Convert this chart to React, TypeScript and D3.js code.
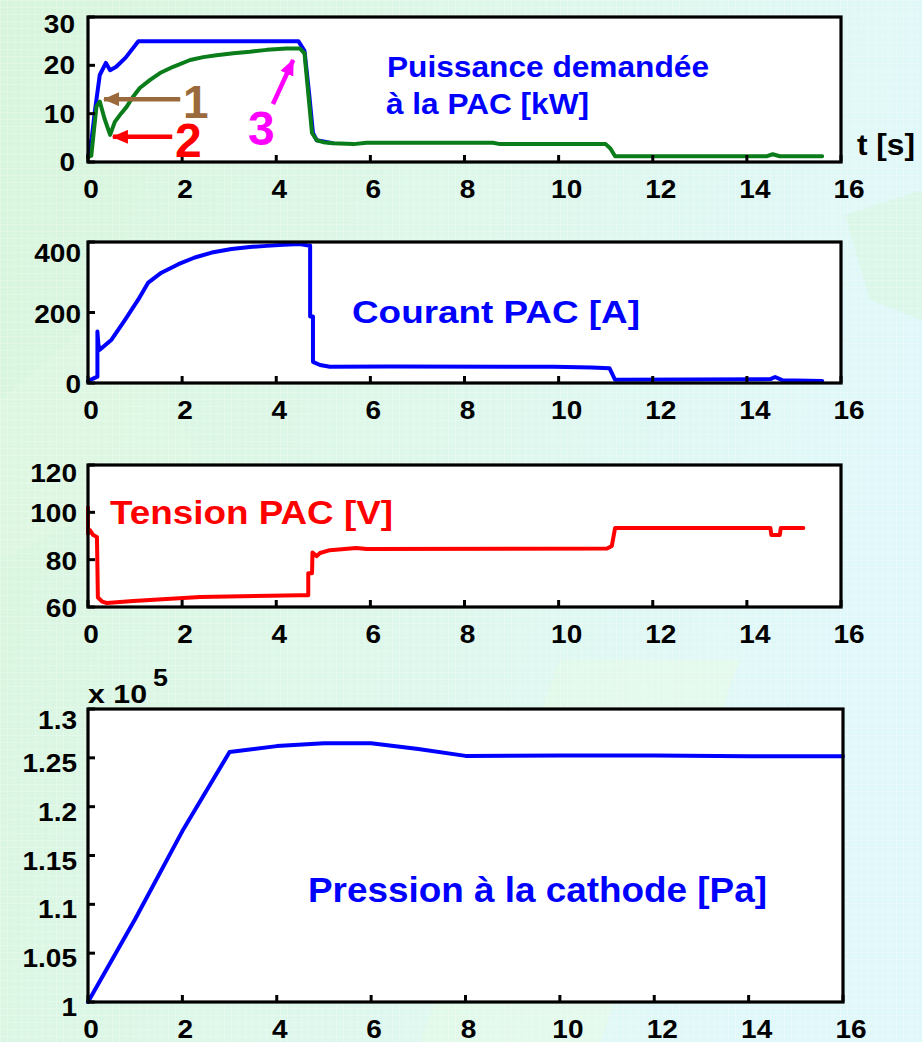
import React from "react";
import * as d3 from "d3";

// ---------- data ----------
const tTicks = [0, 2, 4, 6, 8, 10, 12, 14, 16];
const powerTicks = [0, 10, 20, 30];
const currentTicks = [0, 200, 400];
const voltageTicks = [60, 80, 100, 120];
const pressureTicks = [1, 1.05, 1.1, 1.15, 1.2, 1.25, 1.3];
const pressureTickLabels = ["1", "1.05", "1.1", "1.15", "1.2", "1.25", "1.3"];

// Puissance demandée (blue) [t (s), kW]
const powerDemand: [number, number][] = [
  [0, 1], [0.08, 5], [0.15, 10.8], [0.25, 18], [0.38, 20.5], [0.47, 19], [0.6, 19.7],
  [0.8, 21.6], [1.07, 25], [4.47, 25], [4.6, 23], [4.7, 14], [4.78, 6], [4.86, 4.5], [5.2, 3.9],
];
// Puissance PAC (green) [t (s), kW]
const powerFuelCell: [number, number][] = [
  [0, 1], [0.07, 1.3], [0.12, 6], [0.18, 11.5], [0.25, 12.5], [0.35, 9], [0.47, 5.6],
  [0.57, 8.3], [0.7, 10], [0.82, 11.4], [0.95, 13.4], [1.1, 15.3], [1.32, 17], [1.53, 18.4],
  [1.81, 19.7], [2.17, 21.1], [2.45, 21.7], [2.73, 22.1], [3.09, 22.5], [3.44, 22.8],
  [3.8, 23.2], [4.22, 23.5], [4.5, 23.5], [4.6, 22.5], [4.76, 6], [4.86, 4.5], [5.0, 4.1],
  [5.2, 3.9], [5.64, 3.7], [5.92, 4.0], [8.6, 4.0], [8.76, 3.7], [11.0, 3.7], [11.1, 2.8],
  [11.2, 1.2], [14.43, 1.2], [14.55, 1.6], [14.7, 1.2], [15.6, 1.2],
];
// Courant PAC [t (s), A]
const currentFC: [number, number][] = [
  [0, 4], [0.04, 8], [0.2, 18], [0.2, 146], [0.22, 110], [0.25, 94], [0.5, 123],
  [0.79, 180], [1.07, 237], [1.28, 285], [1.56, 313], [1.92, 337], [2.27, 356],
  [2.63, 370], [3.05, 380], [3.44, 386], [3.8, 389], [4.15, 392], [4.5, 394],
  [4.65, 391], [4.72, 390], [4.72, 189], [4.78, 189], [4.78, 60], [4.93, 51], [5.14, 46],
  [6.42, 47], [9.9, 46], [10.7, 44], [11.08, 42], [11.2, 9], [14.5, 11], [14.6, 17],
  [14.75, 8], [15.6, 6],
];
// Tension PAC [t (s), V]
const voltageFC: [number, number][] = [
  [0, 102], [0, 91], [0.04, 92.5], [0.11, 90.4], [0.19, 89.6], [0.21, 64], [0.3, 62.3],
  [0.4, 61.7], [0.96, 62.5], [2.38, 64.2], [4.5, 65], [4.68, 65], [4.68, 74.3], [4.76, 74.3],
  [4.77, 83], [4.86, 81.5], [4.93, 82.8], [5.14, 84], [5.7, 84.9], [5.92, 84.5], [11.03, 84.7],
  [11.13, 85.8], [11.2, 93.4], [14.5, 93.4], [14.52, 90.4], [14.7, 90.4], [14.72, 93.4],
  [15.2, 93.4],
];
// Pression à la cathode [t (s), x1e5 Pa]
const pressureCathode: [number, number][] = [
  [0, 1], [1, 1.085], [2, 1.175], [3, 1.256], [4, 1.262], [5, 1.265], [6, 1.265],
  [7, 1.259], [8, 1.252], [10, 1.2525], [12, 1.2525], [14, 1.2515], [16, 1.2515],
];

// annotations in data units of panel 1
const arrows: { tail: [number, number]; head: [number, number]; color: string; id: string }[] = [
  { tail: [1.96, 13], head: [0.34, 13], color: "#9b6a3c", id: "brown" },
  { tail: [1.79, 5.2], head: [0.53, 5.2], color: "#ff0000", id: "red" },
  { tail: [3.93, 12], head: [4.36, 21.1], color: "#ff00ff", id: "mag" },
];
const arrowLabels: { t: number; p: number; text: string; color: string; size: number }[] = [
  { t: 2.02, p: 9.1, text: "1", color: "#9b6a3c", size: 46 },
  { t: 1.85, p: 1.0, text: "2", color: "#ff0000", size: 48 },
  { t: 3.4, p: 3.5, text: "3", color: "#ff00ff", size: 48 },
];

const FONT = "'Liberation Sans', Arial, Helvetica, sans-serif";
const W = 922;
const H = 1042;

function SText(props: {
  x: number; y: number; sx?: number; anchor?: string; size: number; fill?: string;
  children: React.ReactNode;
}) {
  const { x, y, sx = 1, anchor = "start", size, fill = "#000", children } = props;
  return (
    <text
      transform={`translate(${x},${y}) scale(${sx},1)`}
      textAnchor={anchor as any}
      fontSize={size}
      fontWeight="bold"
      fill={fill}
      fontFamily={FONT}
    >
      {children}
    </text>
  );
}

function FitText(props: {
  x: number; y: number; w: number; size: number; fill: string; children: React.ReactNode;
}) {
  return (
    <text
      x={props.x}
      y={props.y}
      fontSize={props.size}
      fontWeight="bold"
      fill={props.fill}
      fontFamily={FONT}
      textLength={props.w}
      lengthAdjust="spacingAndGlyphs"
    >
      {props.children}
    </text>
  );
}

type PanelCfg = {
  top: number; bottom: number; left: number; right: number;
  domain: [number, number]; ticks: number[]; labels: string[];
  labelRight: number; dy: number; topDy: number;
  series: { data: [number, number][]; color: string }[];
};

function Panel({ cfg, children }: { cfg: PanelCfg; children?: (x: any, y: any) => React.ReactNode }) {
  const x = d3.scaleLinear().domain([0, 16]).range([cfg.left, cfg.right]);
  const y = d3.scaleLinear().domain(cfg.domain).range([cfg.bottom, cfg.top]);
  const line = d3.line<[number, number]>().x((d) => x(d[0])).y((d) => y(d[1]));
  const TS = 25;
  const SX = 1.12;
  return (
    <g>
      <rect
        x={cfg.left}
        y={cfg.top}
        width={cfg.right - cfg.left}
        height={cfg.bottom - cfg.top}
        fill="#ffffff"
      />
      {cfg.series.map((s, i) => (
        <path
          key={i}
          d={line(s.data) || ""}
          fill="none"
          stroke={s.color}
          strokeWidth={4}
          strokeLinejoin="round"
          strokeLinecap="round"
        />
      ))}
      {tTicks.map((t) => (
        <line key={"xt" + t} x1={x(t)} x2={x(t)} y1={cfg.bottom} y2={cfg.bottom - 7} stroke="#000" strokeWidth={3} />
      ))}
      {cfg.ticks.map((v) => (
        <line key={"yt" + v} x1={cfg.left} x2={cfg.left + 7} y1={y(v)} y2={y(v)} stroke="#000" strokeWidth={3} />
      ))}
      <rect
        x={cfg.left}
        y={cfg.top}
        width={cfg.right - cfg.left}
        height={cfg.bottom - cfg.top}
        fill="none"
        stroke="#000"
        strokeWidth={3.2}
      />
      {tTicks.map((t) => {
        const s = String(t);
        return (
          <SText key={"xl" + t} x={x(t) + 3 + (s.length - 1) * 5} y={cfg.bottom + 36} sx={SX} anchor="middle" size={TS}>
            {s}
          </SText>
        );
      })}
      {cfg.ticks.map((v, i) => (
        <SText
          key={"yl" + v}
          x={cfg.labelRight}
          y={y(v) + 9 + cfg.dy + (i === cfg.ticks.length - 1 ? cfg.topDy : 0)}
          sx={SX}
          anchor="end"
          size={TS}
        >
          {cfg.labels[i]}
        </SText>
      ))}
      {children ? children(x, y) : null}
    </g>
  );
}

export default function App() {
  const p1: PanelCfg = {
    top: 17, bottom: 162, left: 88, right: 841, domain: [0, 30], ticks: powerTicks,
    labels: powerTicks.map(String), labelRight: 75, dy: 0, topDy: 7,
    series: [
      { data: powerDemand, color: "#0000ff" },
      { data: powerFuelCell, color: "#0a7d1a" },
    ],
  };
  const p2: PanelCfg = {
    top: 242, bottom: 383, left: 88, right: 841, domain: [0, 400], ticks: currentTicks,
    labels: currentTicks.map(String), labelRight: 81, dy: 1, topDy: 10,
    series: [{ data: currentFC, color: "#0000ff" }],
  };
  const p3: PanelCfg = {
    top: 465, bottom: 607, left: 88, right: 841, domain: [60, 120], ticks: voltageTicks,
    labels: voltageTicks.map(String), labelRight: 77, dy: 1, topDy: 7,
    series: [{ data: voltageFC, color: "#ff0000" }],
  };
  const p4: PanelCfg = {
    top: 709, bottom: 1002, left: 88, right: 843, domain: [1, 1.3], ticks: pressureTicks,
    labels: pressureTickLabels, labelRight: 77, dy: 5, topDy: 6,
    series: [{ data: pressureCathode, color: "#0000ff" }],
  };

  return (
    <svg
      width={W}
      height={H}
      viewBox={`0 0 ${W} ${H}`}
      style={{ position: "absolute", left: 0, top: 0, display: "block" }}
    >
      <defs>
        <linearGradient id="bg" x1="0" y1="0" x2="1" y2="0.3">
          <stop offset="0" stopColor="#d8f5dc" />
          <stop offset="0.45" stopColor="#ddf7e8" />
          <stop offset="1" stopColor="#e1f8fa" />
        </linearGradient>
        <pattern id="grid" width="7" height="7" patternUnits="userSpaceOnUse">
          <path d="M7 0 L0 0 0 7" fill="none" stroke="#ffffff" strokeOpacity="0.4" strokeWidth="1" />
        </pattern>
        {arrows.map((a) => (
          <marker
            key={a.id}
            id={"ah-" + a.id}
            viewBox="0 0 16 14"
            refX="15"
            refY="7"
            markerWidth="16"
            markerHeight="14"
            markerUnits="userSpaceOnUse"
            orient="auto"
          >
            <path d="M0,0 L16,7 L0,14 Z" fill={a.color} />
          </marker>
        ))}
      </defs>
      <rect x={0} y={0} width={W} height={H} fill="url(#bg)" />
      <path d="M560 660 L740 660 L600 1042 L420 1042 Z" fill="#e6fbe4" opacity="0.5" />
      <path d="M845 215 L922 190 L922 320 L870 300 Z" fill="#d6f6da" opacity="0.5" />
      <path d="M0 400 L120 300 L200 460 L0 560 Z" fill="#e4f9e6" opacity="0.35" />
      <rect x={0} y={0} width={W} height={H} fill="url(#grid)" />

      <Panel cfg={p1}>
        {(x: any, y: any) => (
          <g>
            {arrows.map((a) => (
              <line
                key={a.id}
                x1={x(a.tail[0])}
                y1={y(a.tail[1])}
                x2={x(a.head[0])}
                y2={y(a.head[1])}
                stroke={a.color}
                strokeWidth={4.5}
                markerEnd={`url(#ah-${a.id})`}
              />
            ))}
            {arrowLabels.map((l) => (
              <text
                key={l.text}
                x={x(l.t)}
                y={y(l.p)}
                fontSize={l.size}
                fontWeight="bold"
                fill={l.color}
                fontFamily={FONT}
              >
                {l.text}
              </text>
            ))}
          </g>
        )}
      </Panel>
      <Panel cfg={p2} />
      <Panel cfg={p3} />
      <Panel cfg={p4} />

      <FitText x={387} y={77} w={322} size={30} fill="#0000ff">Puissance demandée</FitText>
      <FitText x={386} y={114} w={203} size={30} fill="#0000ff">à la PAC [kW]</FitText>
      <FitText x={352} y={323} w={288} size={32} fill="#0000ff">Courant PAC [A]</FitText>
      <FitText x={110} y={524} w={283} size={33} fill="#ff0000">Tension PAC [V]</FitText>
      <FitText x={308} y={902} w={459} size={35} fill="#0000ff">Pression à la cathode [Pa]</FitText>
      <FitText x={857} y={155} w={58} size={29} fill="#000000">t [s]</FitText>
      <FitText x={88} y={703} w={59} size={25} fill="#000000">x 10</FitText>
      <SText x={153} y={686} sx={1.12} size={24}>5</SText>
    </svg>
  );
}
